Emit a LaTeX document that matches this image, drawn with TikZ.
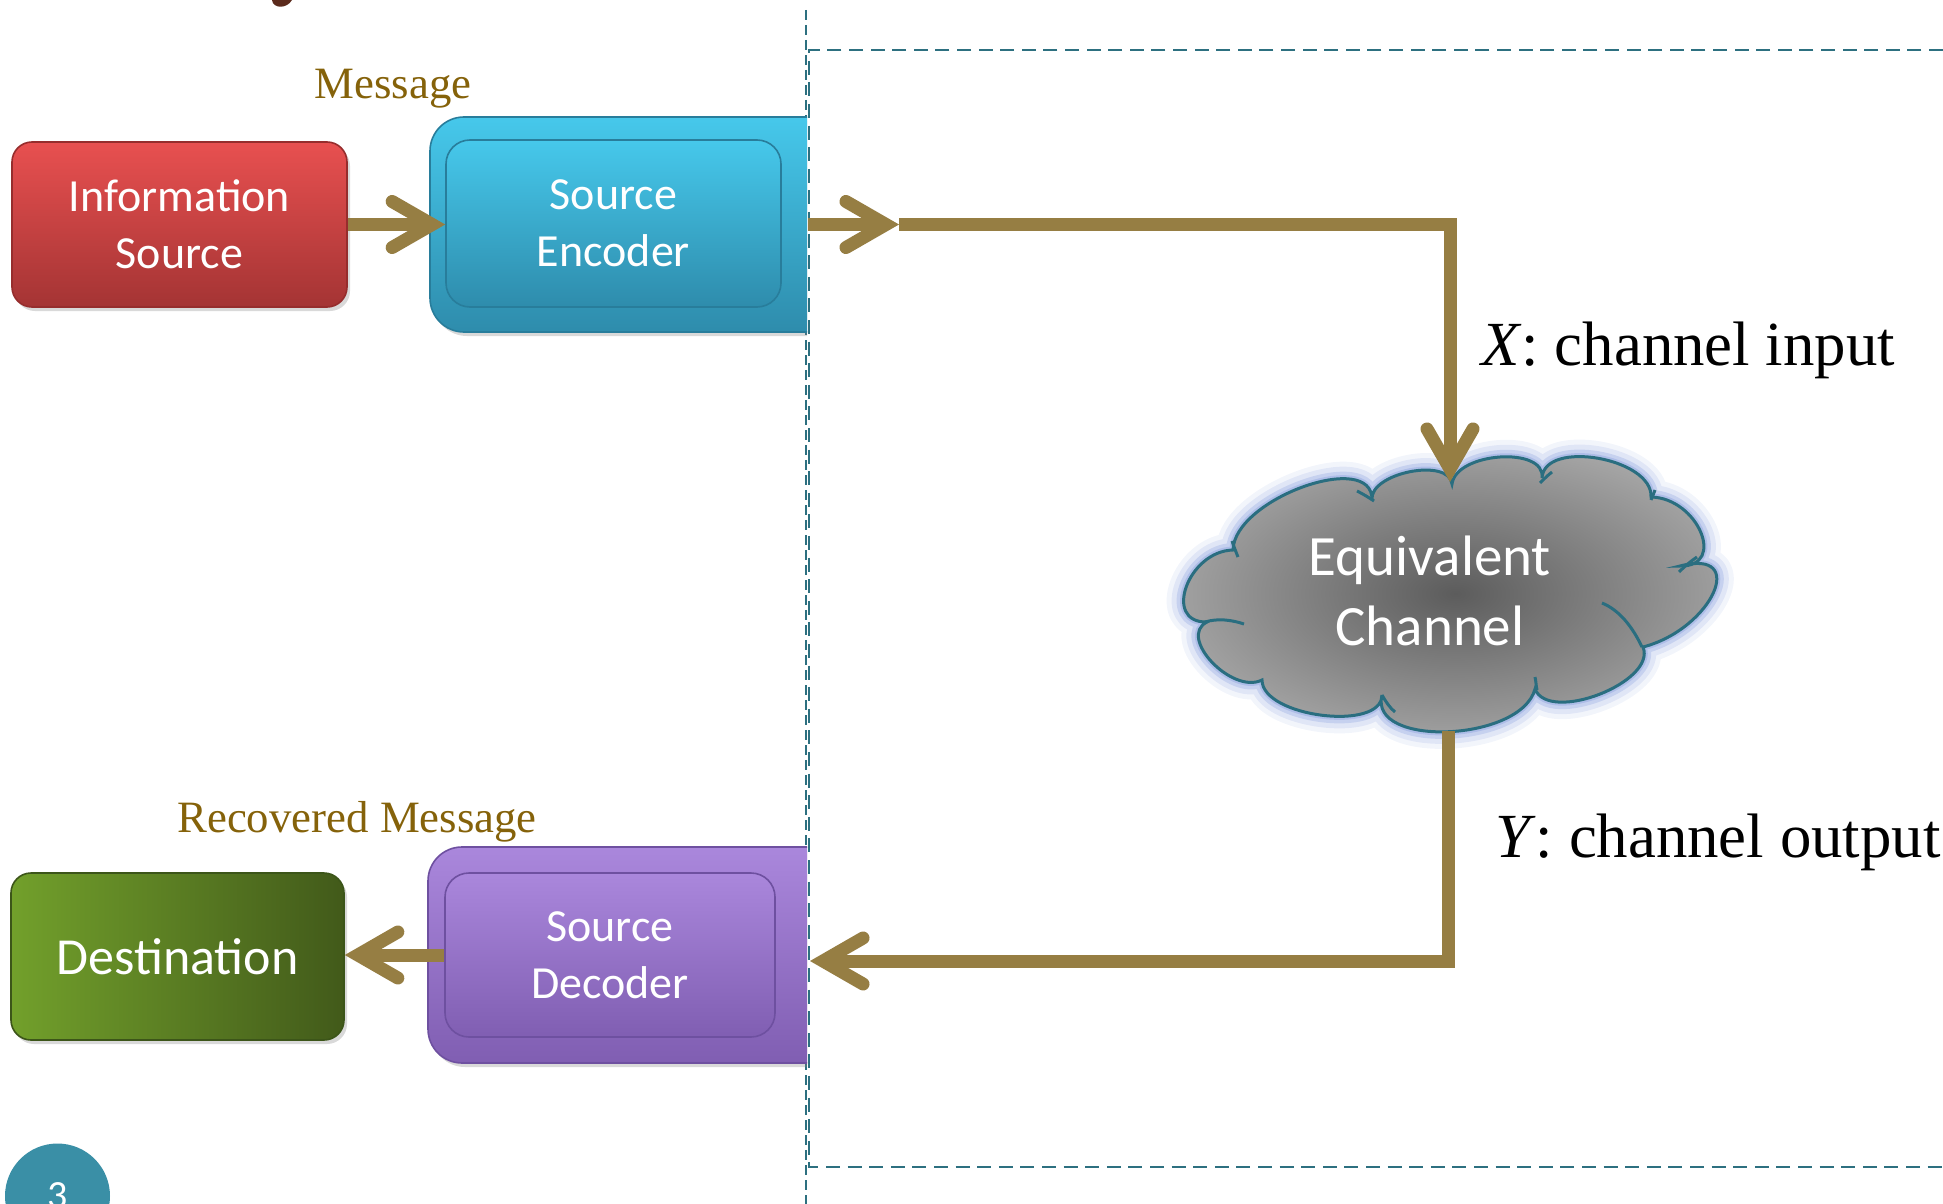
\documentclass[tikz,border=0pt]{standalone}
\usepackage{fontspec}
\setmainfont{Liberation Serif}
\newfontfamily\boxfont{Carlito}
\usetikzlibrary{arrows.meta,shadows,calc}
\definecolor{arrowc}{RGB}{150,126,67}
\definecolor{labc}{RGB}{133,98,10}
\definecolor{dashc}{RGB}{45,112,128}
\definecolor{redtop}{RGB}{232,80,80}
\definecolor{redmid}{RGB}{212,66,66}
\definecolor{redbot}{RGB}{164,52,52}
\definecolor{redline}{RGB}{150,45,45}
\definecolor{cyantop}{RGB}{70,200,235}
\definecolor{cyanmid}{RGB}{58,186,222}
\definecolor{cyanbot}{RGB}{46,140,172}
\definecolor{cyanline}{RGB}{40,125,155}
\definecolor{purtop}{RGB}{170,135,220}
\definecolor{purmid}{RGB}{143,107,192}
\definecolor{purbot}{RGB}{128,94,178}
\definecolor{purline}{RGB}{110,80,160}
\definecolor{grnleft}{RGB}{114,160,43}
\definecolor{grnright}{RGB}{66,90,26}
\definecolor{grnline}{RGB}{60,85,25}
\definecolor{cldin}{RGB}{92,92,92}
\definecolor{cldout}{RGB}{165,165,165}
\definecolor{cldline}{RGB}{42,110,128}
\definecolor{glowc}{RGB}{150,170,225}
\definecolor{pagec}{RGB}{58,143,166}
\definecolor{titlec}{RGB}{91,42,28}
\def\mycloudpath{(1452,484) .. controls (1456,452) and (1546,446) .. (1542,478)
 .. controls (1544,439) and (1653,458) .. (1651,497)
 .. controls (1698,498) and (1727,567) .. (1680,566)
 .. controls (1749,548) and (1712,629) .. (1643,647)
 .. controls (1657,682) and (1549,724) .. (1535,689)
 .. controls (1521,742) and (1368,748) .. (1382,695)
 .. controls (1382,732) and (1262,717) .. (1262,680)
 .. controls (1232,695) and (1177,637) .. (1207,622)
 .. controls (1162,623) and (1188,551) .. (1233,550)
 .. controls (1234,499) and (1373,449) .. (1372,500)
 .. controls (1369,473) and (1449,457) .. (1452,484) -- cycle}
\begin{document}
\begin{tikzpicture}[x=0.5pt,y=-0.5pt,
  arr/.style={draw=arrowc, line width=6.5pt,
    -{Straight Barb[length=20pt,width=23pt,line join=miter,line cap=round]}},
  boxtxt/.style={text=white, align=center, inner sep=0pt,
    font=\boxfont\fontsize{23pt}{28.5pt}\selectfont},
  shad/.style={drop shadow={shadow xshift=1.5pt, shadow yshift=-2pt, opacity=0.3}},
  redbox/.style={boxtxt, rounded corners=10pt, draw=redline, line width=0.8pt,
    top color=redtop, middle color=redmid, bottom color=redbot},
  cyanbox/.style={boxtxt, draw=cyanline, line width=0.8pt,
    top color=cyantop, middle color=cyanmid, bottom color=cyanbot},
  purbox/.style={boxtxt, draw=purline, line width=0.8pt,
    top color=purtop, middle color=purmid, bottom color=purbot},
  grnbox/.style={boxtxt, rounded corners=10pt, draw=grnline, line width=0.8pt,
    left color=grnleft, right color=grnright},
  lab/.style={text=labc, inner sep=0pt, font=\fontsize{22.4pt}{26pt}\selectfont},
  axlab/.style={text=black, inner sep=0pt, font=\fontsize{31.4pt}{36pt}\selectfont},
  dashv/.style={draw=dashc, line width=1pt, dash pattern=on 5pt off 2.5pt},
  dashr/.style={draw=dashc, line width=1.3pt, dash pattern=on 7pt off 3.8pt},
  cldarc/.style={draw=cldline, line width=1.5pt}
]
\useasboundingbox (0,0) rectangle (1943,1204);
\clip (0,0) rectangle (1943,1204);

% title fragment
\fill[titlec] (272,0) .. controls (273,9) and (287,9) .. (292,0) -- cycle;

% dashed guide lines
\draw[dashv] (806,10) -- (806,1204);
\draw[dashr] (1943,50) -- (809,50) -- (809,1167) -- (1943,1167);

% left boxes
\node[redbox, shad, minimum width=167.5pt, minimum height=82.5pt] (info) at (179.5,224.5) {Information\\Source};
\node[grnbox, shad, minimum width=166.5pt, minimum height=83.5pt,
  font=\boxfont\fontsize{26pt}{31pt}\selectfont] (dest) at (177.5,956.5) {Destination};

% outer frames (cut at the dashed line)
\begin{scope}
\clip (0,0) rectangle (807,1204);
\node[cyanbox, shad, rounded corners=17pt, minimum width=210pt, minimum height=107.5pt] (encframe) at (640,224.5) {};
\node[purbox, shad, rounded corners=17pt, minimum width=211pt, minimum height=108pt] (decframe) at (639,955) {};
\end{scope}
\node[cyanbox, rounded corners=12pt, minimum width=167.5pt, minimum height=83.5pt] (enc) at (613.5,223.5) {Source\\Encoder};
\node[purbox, rounded corners=12pt, minimum width=165pt, minimum height=82pt] (dec) at (610,955) {Source\\Decoder};

% cloud
\draw[glowc, line width=17pt, opacity=0.12, line join=round] \mycloudpath;
\draw[glowc, line width=12pt, opacity=0.2, line join=round] \mycloudpath;
\draw[glowc, line width=7pt, opacity=0.35, line join=round] \mycloudpath;
\draw[glowc, line width=3.5pt, opacity=0.5, line join=round] \mycloudpath;
\shade[inner color=cldin, outer color=cldout] \mycloudpath;
\draw[cldarc] \mycloudpath;
\draw[cldarc] (1642,647) .. controls (1632,626) and (1619,610) .. (1602,603);
\draw[cldarc] (1205,622) .. controls (1218,618) and (1232,620) .. (1244,624);
\draw[cldarc] (1679,572) .. controls (1685,566) and (1691,561) .. (1697,557);
\draw[cldarc] (1382,695) .. controls (1386,702) and (1390,708) .. (1395,712);
\draw[cldarc] (1232,541) .. controls (1234,547) and (1236,552) .. (1238,557);
\draw[cldarc] (1535,677) .. controls (1536,681) and (1536,686) .. (1537,690);
\draw[cldarc] (1540,483) .. controls (1544,479) and (1548,475) .. (1552,472);
\draw[cldarc] (1651,500) .. controls (1652,497) and (1654,493) .. (1655,490);
\draw[cldarc] (1357,491) .. controls (1363,494) and (1368,497) .. (1374,501);
\node[boxtxt, font=\boxfont\fontsize{28.5pt}{34.7pt}\selectfont] (chan) at (1430,591) {Equivalent\\Channel};

% connector coordinates
\coordinate (encR) at (808,224.5);
\coordinate (xtip) at (899,224.5);
\coordinate (cin) at (1450,482);
\coordinate (cout) at (1448,731);
\coordinate (decR) at (810,961);

% connectors
\draw[arr] (info.east) -- (info.east -| enc.west);
\draw[arr] (encR) -- (xtip);
\draw[arr] (xtip) -| (cin);
\draw[arr] (cout) |- (decR);
\draw[arr] (dec.west) -- (dec.west -| dest.east);

% labels
\node[lab, anchor=base] (msg) at (393,98) {Message};
\node[lab, anchor=base] (rmsg) at (357,832) {Recovered Message};
\node[axlab, anchor=base west] (xl) at (1481,365) {\textit{X}: channel input};
\node[axlab, anchor=base west] (yl) at (1495,857) {\textit{Y}: channel output};

% page number
\fill[pagec] (57.5,1196) circle[radius=52.5];
\node[text=white, inner sep=0pt, anchor=base, font=\boxfont\fontsize{20pt}{20pt}\selectfont] (pg) at (58,1208) {3};
\end{tikzpicture}
\end{document}
